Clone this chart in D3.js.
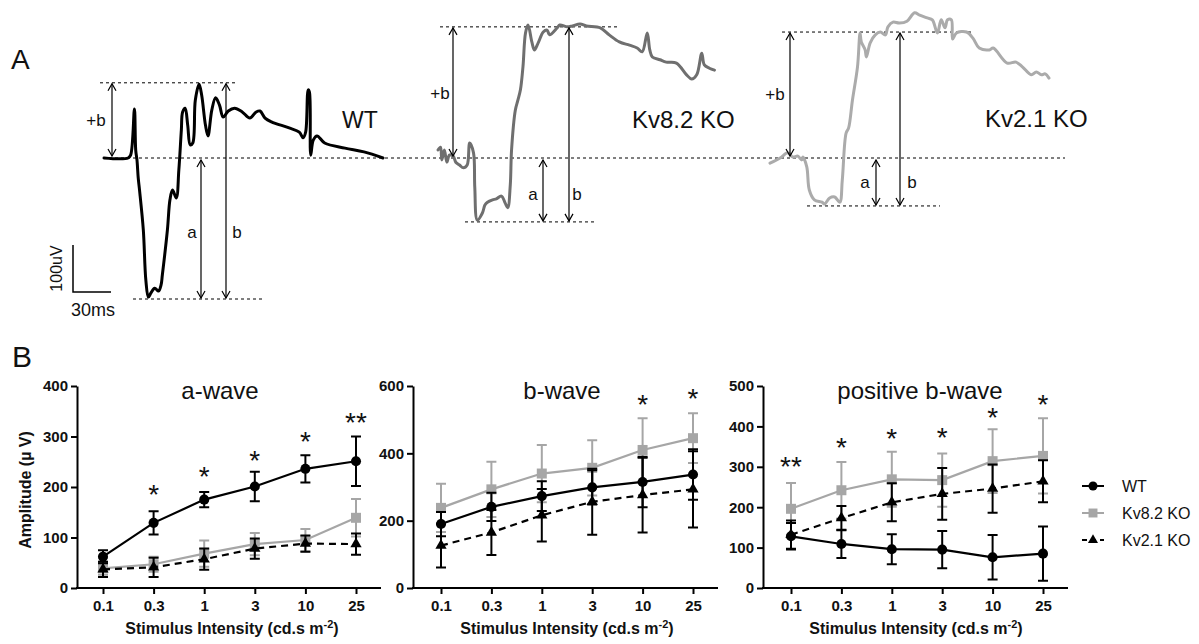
<!DOCTYPE html>
<html><head><meta charset="utf-8">
<script src="https://cdn.jsdelivr.net/npm/d3@7"></script>
<style>
body{margin:0;background:#fff}
svg{display:block;font-family:Arial,"Liberation Sans",sans-serif}
</style>
</head><body>
<svg id="c" width="1199" height="644"></svg>
<script>
// ---------- DATA ----------
// Panel A: ERG traces, [time (ms), amplitude (µV)] relative to trace onset / baseline
const wtTrace = [[0,0],[19,0],[21,6],[24,104],[25,17],[26,-4],[27,-43],[28,-68],[31,-153],[33,-260],[35,-296],[37,-287],[40,-277],[43,-283],[45,-270],[46,-249],[50,-153],[52,-89],[54,-68],[57,-85],[59,-26],[61,60],[62,98],[64,106],[66,70],[68,28],[70,32],[72,123],[75,157],[77,134],[80,70],[82,47],[85,102],[88,128],[91,113],[94,87],[98,100],[103,106],[109,98],[115,85],[120,98],[123,100],[127,85],[132,77],[146,64],[154,55],[157,43],[159,55],[161,145],[162,140],[163,6],[165,38],[168,47],[174,32],[190,21],[205,13],[220,0]];
const kv82Trace = [[0,17],[2,23],[3,-4],[5,17],[7,-9],[9,6],[12,4],[14,-9],[17,-15],[20,-21],[23,-15],[25,32],[28,11],[29,-62],[31,-132],[35,-117],[37,-100],[39,-94],[43,-89],[46,-87],[50,-81],[53,-96],[55,-106],[57,-57],[58,17],[61,102],[63,123],[65,145],[67,194],[69,266],[71,283],[74,247],[76,230],[79,245],[83,268],[86,272],[88,262],[94,277],[96,283],[102,279],[106,281],[112,285],[117,281],[128,277],[135,262],[143,247],[151,240],[157,234],[161,226],[165,266],[167,230],[169,215],[175,209],[180,204],[188,202],[196,177],[200,168],[204,177],[208,223],[210,198],[214,191],[218,187]];
const kv21Trace = [[0,-11],[8,0],[14,11],[18,2],[22,4],[25,-4],[26,2],[29,-19],[31,-68],[35,-89],[41,-94],[43,-98],[47,-85],[51,-83],[55,-94],[57,-47],[60,53],[62,64],[65,123],[69,194],[71,266],[72,247],[75,230],[76,215],[79,245],[83,262],[87,268],[91,262],[93,279],[97,289],[102,287],[108,291],[114,309],[118,304],[124,298],[128,294],[132,266],[135,294],[138,277],[140,294],[143,294],[144,253],[147,266],[155,268],[160,255],[165,234],[173,230],[176,234],[187,202],[194,204],[199,194],[206,177],[210,183],[214,177],[217,179],[220,170]];
// measured levels (µV): b-wave peak and a-wave trough
const wtLevels = [160, -300];
const kv82Levels = [279, -136];
const kv21Levels = [268, -102];
const traceNames = ["WT", "Kv8.2 KO", "Kv2.1 KO"];
const scaleBar = [30, 100]; // ms, µV

// Panel B
const xCats = ["0.1","0.3","1","3","10","25"];
const seriesNames = ["WT","Kv8.2 KO","Kv2.1 KO"];
const aWT = [62,129,175,201,236,251];   const aWTerr = [13,23,15,29,27,49];
const aKv82 = [39,47,68,87,95,139];     const aKv82err = [13,15,26,22,22,37];
const aKv21 = [37,41,57,78,88,87];      const aKv21err = [15,19,21,20,16,21];
const bWT = [190,241,273,299,315,337];  const bWTerr = [36,42,44,51,75,75];
const bKv82 = [238,293,340,357,410,445];const bKv82err = [72,82,85,82,94,74];
const bKv21 = [126,165,216,256,276,293];const bKv21err = [65,67,78,98,111,113];
const pWT = [128,109,96,95,76,85];      const pWTerr = [33,35,37,46,55,67];
const pKv82 = [196,242,269,267,314,327];const pKv82err = [64,70,68,66,79,93];
const pKv21 = [132,173,212,233,246,264];const pKv21err = [35,30,47,64,60,52];
const aStars = ["","*","*","*","*","**"]; const aStarY = [0,198,234,265,303,341];
const bStars = ["","","","","*","*"];     const bStarY = [0,0,0,0,564,582];
const pStars = ["**","*","*","*","*","*"];const pStarY = [318,364,386,389,439,470];
const chartTitles = ["a-wave","b-wave","positive b-wave"];
const yMaxes = [400,600,500];
const yTicksA = [0,100,200,300,400], yTicksB = [0,200,400,600], yTicksP = [0,100,200,300,400,500];

// ---------- DRAW ----------
const svg = d3.select("#c");
const TXT = "#111";

// ===== Panel A =====
svg.append("text").attr("x",11).attr("y",69).attr("font-size",28).attr("fill",TXT).text("A");
const yT = d3.scaleLinear().domain([0,100]).range([158,111]);
const line = d3.line().curve(d3.curveCatmullRom.alpha(0.5));

function dotted(x1,x2,y){
  svg.append("line").attr("x1",x1).attr("x2",x2).attr("y1",y).attr("y2",y)
    .attr("stroke","#000").attr("stroke-width",1).attr("stroke-dasharray","3,3");
}
function arrow(x,y1,y2){
  svg.append("line").attr("x1",x).attr("x2",x).attr("y1",y1).attr("y2",y2)
    .attr("stroke","#000").attr("stroke-width",1.2);
  svg.append("path").attr("d",`M${x-4},${y1+7}L${x},${y1}L${x+4},${y1+7}M${x-4},${y2-7}L${x},${y2}L${x+4},${y2-7}`)
    .attr("fill","none").attr("stroke","#000").attr("stroke-width",1.2);
}
function lbl(x,y,t,size,anchor){
  svg.append("text").attr("x",x).attr("y",y).attr("font-size",size).attr("fill",TXT)
    .attr("text-anchor",anchor||"middle").text(t);
}

// baseline
dotted(103,1065,yT(0));

const traces = [
  {d:wtTrace, lv:wtLevels, x0:104, color:"#000", top:[100,238], bot:[133,265], ax:[112,201,226], lab:[342,128,23], pb:[96,126], al:[192,238], bl:[237,238]},
  {d:kv82Trace, lv:kv82Levels, x0:438, color:"#6f6f6f", top:[440,617], bot:[465,597], ax:[453,543,569], lab:[632,128,24], pb:[440,99], al:[533,200], bl:[577,200]},
  {d:kv21Trace, lv:kv21Levels, x0:770, color:"#ababab", top:[782,973], bot:[807,940], ax:[790,876,900], lab:[985,127,24], pb:[775,100], al:[865,188], bl:[912,188]}
];
let xWT;
traces.forEach((t,i)=>{
  const xs = d3.scaleLinear().domain([0,220]).range([t.x0, t.x0+279]);
  if(i===0) xWT = xs;
  const yp = yT(t.lv[0]), ytr = yT(t.lv[1]), y0 = yT(0);
  dotted(t.top[0], t.top[1], yp);
  dotted(t.bot[0], t.bot[1], ytr);
  svg.append("path").attr("d", line(t.d.map(p=>[xs(p[0]), yT(p[1])])))
    .attr("fill","none").attr("stroke",t.color).attr("stroke-width",3)
    .attr("stroke-linejoin","round").attr("stroke-linecap","round");
  arrow(t.ax[0], yp+1, y0-2);
  arrow(t.ax[1], y0+2, ytr-1);
  arrow(t.ax[2], yp+1, ytr-1);
  lbl(t.pb[0], t.pb[1], "+b", 17);
  lbl(t.al[0], t.al[1], "a", 17);
  lbl(t.bl[0], t.bl[1], "b", 17);
  lbl(t.lab[0], t.lab[1], traceNames[i], t.lab[2], "start");
});
// scale bar
{
  const w = xWT(scaleBar[0]) - xWT(0), h = yT(0) - yT(scaleBar[1]);
  const bx = 73, by = 292;
  svg.append("path").attr("d",`M${bx},${by-h}L${bx},${by}L${bx+w},${by}`)
    .attr("fill","none").attr("stroke","#000").attr("stroke-width",1.5);
  svg.append("text").attr("transform",`translate(${bx-11},${by-h/2}) rotate(-90)`)
    .attr("text-anchor","middle").attr("font-size",16).attr("fill",TXT).text(scaleBar[1]+"uV");
  lbl(bx-2, 316, scaleBar[0]+"ms", 18, "start");
}

// ===== Panel B =====
svg.append("text").attr("x",12).attr("y",367).attr("font-size",30).attr("fill",TXT).text("B");

const Y0 = 588, YT = 386;
const charts = [
  {title:chartTitles[0], yMax:yMaxes[0], ticks:yTicksA, ax:77, end:381, p:[103,356], tx:220, lx:232,
   s:[[aKv82,aKv82err],[aKv21,aKv21err],[aWT,aWTerr]], stars:aStars, starY:aStarY},
  {title:chartTitles[1], yMax:yMaxes[1], ticks:yTicksB, ax:413, end:718, p:[441,693], tx:562, lx:567,
   s:[[bKv82,bKv82err],[bKv21,bKv21err],[bWT,bWTerr]], stars:bStars, starY:bStarY},
  {title:chartTitles[2], yMax:yMaxes[2], ticks:yTicksP, ax:763, end:1068, p:[791,1043], tx:920, lx:916,
   s:[[pKv82,pKv82err],[pKv21,pKv21err],[pWT,pWTerr]], stars:pStars, starY:pStarY}
];
const styles = [
  {color:"#a6a6a6", dash:null, sym:d3.symbolSquare, size:100},
  {color:"#000", dash:"7,5", sym:d3.symbolTriangle, size:55},
  {color:"#000", dash:null, sym:d3.symbolCircle, size:80}
];

charts.forEach((c,ci)=>{
  const x = d3.scalePoint().domain(xCats).range(c.p);
  const y = d3.scaleLinear().domain([0,c.yMax]).range([Y0,YT]);
  const g = svg.append("g");
  // y axis
  const ya = g.append("g").attr("transform",`translate(${c.ax},0)`)
    .call(d3.axisLeft(y).tickValues(c.ticks).tickSize(6).tickSizeOuter(0).tickPadding(3));
  ya.select(".domain").attr("stroke","#000").attr("stroke-width",2);
  ya.selectAll(".tick line").attr("stroke","#000").attr("stroke-width",2);
  ya.selectAll(".tick text").attr("font-size",15).attr("font-weight","bold").attr("fill",TXT)
    .attr("font-family","Arial, Liberation Sans, sans-serif");
  // x axis
  const xa = g.append("g").attr("transform",`translate(0,${Y0})`)
    .call(d3.axisBottom(x).tickSize(6).tickSizeOuter(0).tickPadding(6));
  xa.select(".domain").remove();
  xa.selectAll(".tick line").attr("stroke","#000").attr("stroke-width",2);
  xa.selectAll(".tick text").attr("font-size",15).attr("font-weight","bold").attr("fill",TXT)
    .attr("font-family","Arial, Liberation Sans, sans-serif");
  g.append("line").attr("x1",c.ax-1).attr("x2",c.end).attr("y1",Y0).attr("y2",Y0)
    .attr("stroke","#000").attr("stroke-width",2);
  // title
  g.append("text").attr("x",c.tx).attr("y",399).attr("text-anchor","middle").attr("font-size",24)
    .attr("fill",TXT).text(c.title);
  // x label
  const xl = g.append("text").attr("x",c.lx).attr("y",634).attr("text-anchor","middle")
    .attr("font-size",16).attr("font-weight","bold").attr("fill",TXT);
  xl.append("tspan").text("Stimulus Intensity (cd.s m");
  xl.append("tspan").attr("dy",-6).attr("font-size",11).text("-2");
  xl.append("tspan").attr("dy",6).text(")");
  // series
  c.s.forEach((sr,si)=>{
    const st = styles[si];
    const vals = sr[0], errs = sr[1];
    // error bars
    vals.forEach((v,k)=>{
      const cx = x(xCats[k]), yt = y(v+errs[k]), yb = y(v-errs[k]);
      g.append("path").attr("d",`M${cx},${yt}L${cx},${yb}M${cx-5},${yt}L${cx+5},${yt}M${cx-5},${yb}L${cx+5},${yb}`)
        .attr("stroke",st.color).attr("stroke-width",2).attr("fill","none");
    });
    g.append("path").attr("d", d3.line()(vals.map((v,k)=>[x(xCats[k]), y(v)])))
      .attr("fill","none").attr("stroke",st.color).attr("stroke-width",2.2)
      .attr("stroke-dasharray",st.dash);
    vals.forEach((v,k)=>{
      g.append("path").attr("d", d3.symbol().type(st.sym).size(st.size)())
        .attr("transform",`translate(${x(xCats[k])},${y(v)})`).attr("fill",st.color);
    });
  });
  // significance stars
  c.stars.forEach((s,k)=>{
    if(!s) return;
    g.append("text").attr("x",x(xCats[k])).attr("y",y(c.starY[k])+16).attr("text-anchor","middle")
      .attr("font-size",28).attr("fill",TXT).text(s);
  });
});
// y label
svg.append("text").attr("transform","translate(31,490) rotate(-90)").attr("text-anchor","middle")
  .attr("font-size",16).attr("font-weight","bold").attr("fill",TXT).text("Amplitude (µ V)");

// legend
const legY = [486,513,540];
[2,0,1].forEach((si,i)=>{
  const st = styles[si];
  const name = seriesNames[i];
  const yy = legY[i];
  svg.append("line").attr("x1",1082).attr("x2",1104).attr("y1",yy).attr("y2",yy)
    .attr("stroke",st.color).attr("stroke-width",2).attr("stroke-dasharray",st.dash?"5,4":null);
  svg.append("path").attr("d", d3.symbol().type(st.sym).size(st.size*0.8)())
    .attr("transform",`translate(1093,${yy})`).attr("fill",st.color);
  svg.append("text").attr("x",1122).attr("y",yy+6).attr("font-size",16).attr("fill",TXT).text(name);
});
</script>
</body></html>
